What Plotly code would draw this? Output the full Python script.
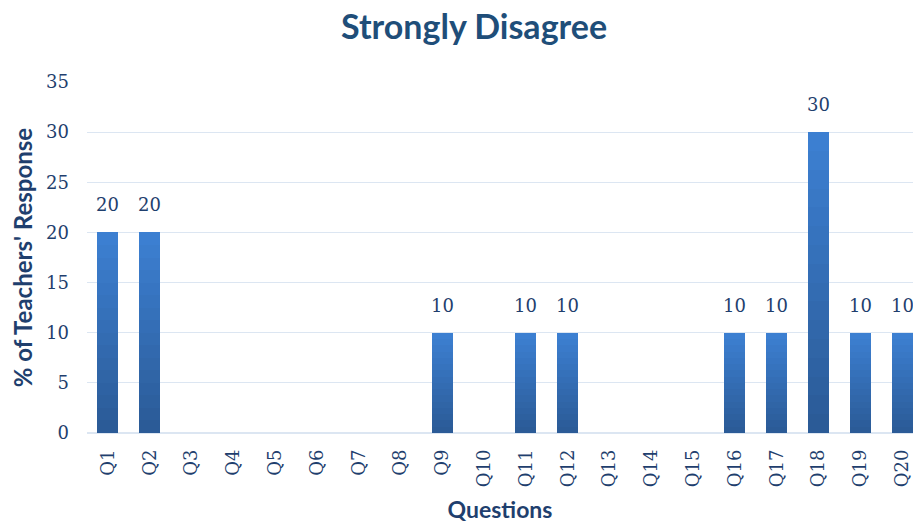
import plotly.graph_objects as go

categories = ["Q1", "Q2", "Q3", "Q4", "Q5", "Q6", "Q7", "Q8", "Q9", "Q10",
              "Q11", "Q12", "Q13", "Q14", "Q15", "Q16", "Q17", "Q18", "Q19", "Q20"]
values = [20, 20, 0, 0, 0, 0, 0, 0, 10, 0, 10, 10, 0, 0, 0, 10, 10, 30, 10, 10]
y_ticks = [0, 5, 10, 15, 20, 25, 30, 35]

title_text = "Strongly Disagree"
x_title = "Questions"
y_title = "% of Teachers' Response"

FONT = "Lato, Open Sans, sans-serif"
SERIF = "DejaVu Serif, serif"
TXT = "#1F3F6E"

# gradient: darker at the bottom, lighter at the top
N = 16
c_bottom = (0x2B, 0x5B, 0x97)
c_top = (0x3C, 0x7F, 0xD1)

fig = go.Figure()
for i in range(N):
    t = i / (N - 1)
    col = "rgb(%d,%d,%d)" % tuple(round(b + (tp - b) * t) for b, tp in zip(c_bottom, c_top))
    fig.add_trace(go.Bar(
        x=categories, y=[v / N for v in values],
        marker=dict(color=col, line=dict(width=0)),
        width=0.5, hoverinfo="skip", showlegend=False,
    ))

annotations = []
for c, v in zip(categories, values):
    if v > 0:
        annotations.append(dict(
            x=c, y=v, xref="x", yref="y", text=str(v), showarrow=False,
            yanchor="bottom", yshift=15,
            font=dict(family=SERIF, size=18, color=TXT),
        ))

fig.update_layout(
    barmode="stack",
    bargap=0,
    width=905, height=515,
    margin=dict(l=79, r=0, t=74, b=90),
    paper_bgcolor="white", plot_bgcolor="white",
    title=dict(text="<b>%s</b>" % title_text, x=0.515, xanchor="center", y=0.962, yanchor="middle",
               font=dict(family=FONT, size=34, color="#1F4E79")),
    font=dict(family=FONT, color=TXT),
    annotations=annotations,
    xaxis=dict(
        range=[-0.5, 19.26], tickangle=-90, showgrid=False, showline=False, zeroline=False,
        tickfont=dict(family=SERIF, size=18, color=TXT), ticks="", ticklabelstandoff=12,
        title=dict(text="<b>%s</b>" % x_title, font=dict(family=FONT, size=23, color=TXT), standoff=20),
    ),
    yaxis=dict(
        range=[0, 35], tickvals=y_ticks, showgrid=True, gridcolor="#DCE6F2", gridwidth=1,
        zeroline=True, zerolinecolor="#DCE6F2", showline=False, ticks="",
        tickfont=dict(family=SERIF, size=18, color=TXT), ticklabelstandoff=17,
        title=dict(text="<b>%s</b>" % y_title, font=dict(family=FONT, size=24, color=TXT), standoff=14),
    ),
)

fig.write_html("out.html")
